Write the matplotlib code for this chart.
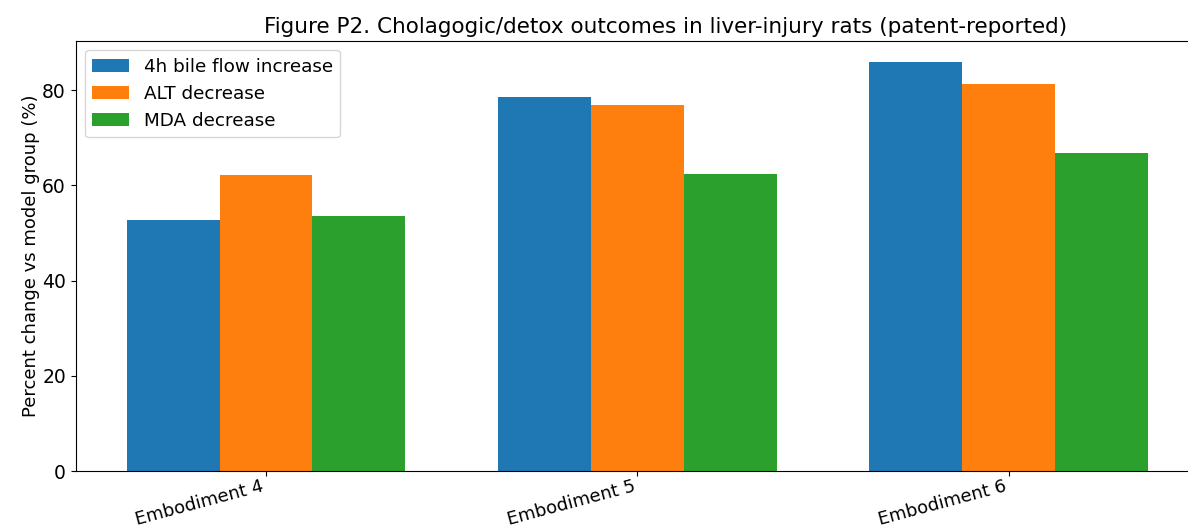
import matplotlib
matplotlib.use("Agg")
import matplotlib.pyplot as plt
import numpy as np

categories = ["Embodiment 4", "Embodiment 5", "Embodiment 6"]
bile_flow = [52.7, 78.5, 86.0]
alt_decrease = [62.2, 76.8, 81.2]
mda_decrease = [53.5, 62.4, 66.7]
series_labels = ["4h bile flow increase", "ALT decrease", "MDA decrease"]

fig = plt.figure(figsize=(11.88, 5.28), dpi=100)
ax = fig.add_axes([0.0637, 0.1074, 0.9456, 0.8149])

x = np.arange(len(categories))
w = 0.25
ax.bar(x - w, bile_flow, w, label=series_labels[0], color="#1f77b4")
ax.bar(x, alt_decrease, w, label=series_labels[1], color="#ff7f0e")
ax.bar(x + w, mda_decrease, w, label=series_labels[2], color="#2ca02c")

ax.set_xticks(x)
ax.set_xticklabels(categories, rotation=15, ha="right", fontsize=13)
ax.tick_params(axis="x", pad=0.5)
ax.tick_params(axis="y", labelsize=13.5)
ax.set_ylabel("Percent change vs model group (%)", fontsize=13, labelpad=1.5)
ax.set_title("Figure P2. Cholagogic/detox outcomes in liver-injury rats (patent-reported)",
             fontsize=15.5, x=0.525)
ax.legend(loc="upper left", fontsize=13.2)

fig.savefig("out.png", dpi=100)
